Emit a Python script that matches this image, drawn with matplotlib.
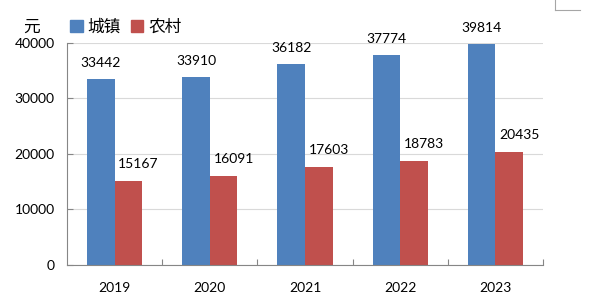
import matplotlib.pyplot as plt
from matplotlib.lines import Line2D
import numpy as np

plt.rcParams['font.family'] = ['Lato', 'Noto Sans CJK SC', 'DejaVu Sans']

years = ['2019', '2020', '2021', '2022', '2023']
urban = [33442, 33910, 36182, 37774, 39814]
rural = [15167, 16091, 17603, 18783, 20435]
series_names = ['城镇', '农村']
unit = '元'

blue = '#4F81BD'
red = '#C0504D'
axis_gray = '#868686'

fig = plt.figure(figsize=(5.92, 3.07), dpi=100)
ax = fig.add_axes([0.1132, 0.1368, 0.8041, 0.7232])

x = np.arange(len(years))
w = 0.29
b1 = ax.bar(x, urban, width=-w, align='edge', color=blue, zorder=2)
b2 = ax.bar(x, rural, width=w, align='edge', color=red, zorder=2)

for rect, v in zip(b1, urban):
  ax.annotate(str(v), (rect.get_x() + rect.get_width() / 2, v),
              xytext=(0, 16), textcoords='offset pixels',
              ha='center', va='center', fontsize=10)
for rect, v in zip(b2, rural):
  ax.annotate(str(v), (rect.get_x() + rect.get_width() / 2, v),
              xytext=(10, 17), textcoords='offset pixels',
              ha='center', va='center', fontsize=10)

ax.set_xlim(-0.5, len(years) - 0.5)
ax.set_ylim(0, 40000)
ax.set_yticks(range(0, 40001, 10000))
ax.set_xticks(x)
ax.set_xticklabels(years, fontsize=10)
ax.set_xticks(np.arange(0.5, len(years), 1.0), minor=True)
ax.tick_params(axis='x', which='major', length=0, pad=12)
ax.tick_params(axis='x', which='minor', direction='in', length=4.5,
               color=axis_gray, width=0.8)
ax.tick_params(axis='y', direction='in', length=4, color=axis_gray,
               width=0.8, labelsize=10, pad=9)

ax.yaxis.grid(True, color='#d9d9d9', linewidth=0.8, zorder=0)
ax.set_axisbelow(True)
for s in ['top', 'right']:
  ax.spines[s].set_visible(False)
for s in ['left', 'bottom']:
  ax.spines[s].set_color(axis_gray)
  ax.spines[s].set_linewidth(0.8)

# unit label and legend
fig.text(32 / 592, 1 - 27 / 307, unit, ha='center', va='center', fontsize=12)
handles = [plt.Rectangle((0, 0), 1, 1, color=blue),
           plt.Rectangle((0, 0), 1, 1, color=red)]
fig.legend(handles, series_names, loc='center left',
           bbox_to_anchor=(70 / 592, 1 - 27 / 307), ncol=2, frameon=False,
           fontsize=12, handlelength=0.75, handleheight=0.75,
           handletextpad=0.3, columnspacing=0.6, borderpad=0, borderaxespad=0)

# cropped shape at top-right corner
fig.add_artist(Line2D([555 / 592, 555 / 592], [1, 1 - 10 / 307],
                      color='#a6a6a6', linewidth=0.8))
fig.add_artist(Line2D([555 / 592, 580 / 592], [1 - 10 / 307, 1 - 10 / 307],
                      color='#a6a6a6', linewidth=0.8))

fig.savefig('out.png', dpi=100)
